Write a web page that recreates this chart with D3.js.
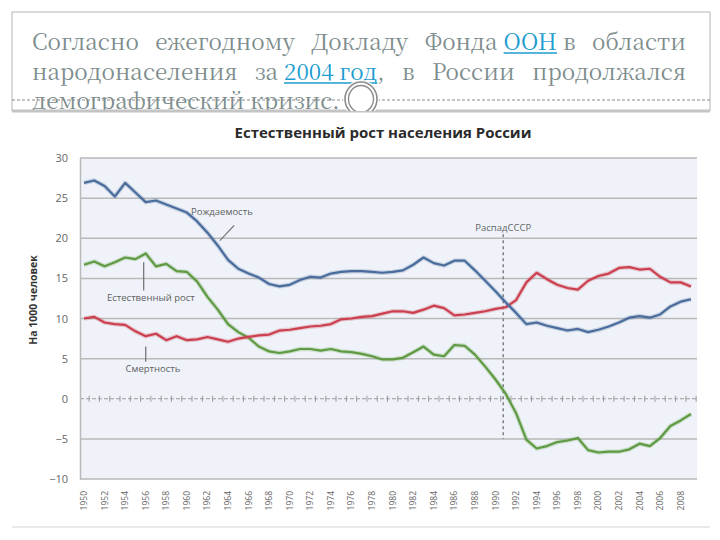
<!DOCTYPE html>
<html><head><meta charset="utf-8">
<script src="https://cdn.jsdelivr.net/npm/d3@7"></script>
<style>html,body{margin:0;padding:0;background:#fff;}svg{display:block;}
.hdr text{font-family:"Noto Serif CJK SC","Noto Serif CJK JP","Liberation Serif",serif;font-size:22.5px;}
</style>
</head><body>
<svg id="c" width="720" height="540"></svg>
<script>
// ---- data ----
const years = d3.range(1950, 2010);
const birthRate = [26.9,27.2,26.5,25.2,26.9,25.7,24.5,24.7,24.2,23.7,
  23.2,22.1,20.7,19.1,17.3,16.2,15.6,15.1,14.3,14.0,
  14.2,14.8,15.2,15.1,15.6,15.8,15.9,15.9,15.8,15.7,
  15.8,16.0,16.7,17.6,16.9,16.6,17.2,17.2,16.0,14.7,
  13.4,12.0,10.7,9.3,9.5,9.1,8.8,8.5,8.7,8.3,
  8.6,9.0,9.5,10.1,10.3,10.1,10.5,11.5,12.1,12.4];
const deathRate = [10.0,10.2,9.5,9.3,9.2,8.4,7.8,8.1,7.3,7.8,
  7.3,7.4,7.7,7.4,7.1,7.5,7.7,7.9,8.0,8.5,
  8.6,8.8,9.0,9.1,9.3,9.9,10.0,10.2,10.3,10.6,
  10.9,10.9,10.7,11.1,11.6,11.3,10.4,10.5,10.7,10.9,
  11.2,11.4,12.3,14.5,15.7,14.9,14.2,13.8,13.6,14.7,
  15.3,15.6,16.3,16.4,16.1,16.2,15.2,14.5,14.5,14.0];
const naturalGrowth = [16.7,17.1,16.5,17.0,17.6,17.4,18.1,16.5,16.8,15.9,
  15.8,14.6,12.7,11.1,9.3,8.3,7.6,6.5,5.9,5.7,
  5.9,6.2,6.2,6.0,6.2,5.9,5.8,5.6,5.3,4.9,
  4.9,5.1,5.8,6.5,5.5,5.3,6.7,6.6,5.5,4.0,
  2.4,0.6,-1.8,-5.1,-6.2,-5.9,-5.4,-5.2,-4.9,-6.4,
  -6.7,-6.6,-6.6,-6.3,-5.6,-5.9,-4.9,-3.4,-2.7,-1.9];
const yTicks = [30,25,20,15,10,5,0,-5,-10];
const xTickYears = d3.range(1950, 2010, 2);
const collapseYear = 1990.75;
const collapseRange = [20.5, -5];
const chartTitle = "Естественный рост населения России";
const yTitle = "На 1000 человек";
const labels = [
  {text:"Рождаемость", year:1963.4, value:23.2, lead:[[1964.6,21.6],[1963.2,19.7]]},
  {text:"Естественный рост", year:1956.5, value:12.5, lead:[[1955.8,17.0],[1955.8,13.5]]},
  {text:"Смертность", year:1956.7, value:3.6, lead:[[1956.0,6.5],[1956.0,4.6]]}
];
const headerLines = [
  [{t:"Согласно"},{t:"ежегодному"},{t:"Докладу"},{t:"Фонда"},{t:"ООН",link:1},{t:"в"},{t:"области"}],
  [{t:"народонаселения"},{t:"за"},{t:"2004 год",link:1},{t:",",attach:1},{t:"в"},{t:"России"},{t:"продолжался"}],
  [{t:"демографический"},{t:"кризис."}]
];

// ---- drawing ----
const svg = d3.select("#c");
const W = 720;

const hdr = svg.append("g").attr("class","hdr");
svg.append("defs").append("clipPath").attr("id","hclip")
  .append("rect").attr("x",0).attr("y",0).attr("width",W).attr("height",111);
const ht = hdr.append("g").attr("clip-path","url(#hclip)");
const txtCol = "#7d8d8d", linkCol = "#1c9ccf";
const left = 32, right = 686, baselines = [50, 80, 109];
headerLines.forEach((words, li) => {
  const nodes = words.map(w => ht.append("text")
    .attr("fill", w.link ? linkCol : txtCol).attr("y", baselines[li]).text(w.t));
  const widths = nodes.map(n => n.node().getComputedTextLength());
  const last = li === headerLines.length - 1;
  const gaps = [];
  for (let i = 1; i < words.length; i++) {
    if (words[i].attach) gaps.push({fixed:0});
    else if (words[i].link || words[i-1].link) gaps.push({fixed:6});
    else gaps.push({fixed:null});
  }
  const total = d3.sum(widths);
  const fixedSum = d3.sum(gaps.filter(g => g.fixed !== null), g => g.fixed);
  const nStretch = gaps.filter(g => g.fixed === null).length;
  const stretch = last ? 6 : (right - left - total - fixedSum) / Math.max(1, nStretch);
  let xx = left;
  nodes.forEach((n, i) => {
    if (i > 0) { const g = gaps[i-1]; xx += g.fixed === null ? stretch : g.fixed; }
    n.attr("x", xx);
    if (words[i].link) {
      ht.append("line").attr("x1", xx).attr("x2", xx + widths[i])
        .attr("y1", baselines[li] + 3).attr("y2", baselines[li] + 3)
        .attr("stroke", linkCol).attr("stroke-width", 1.5);
    }
    xx += widths[i];
  });
});
hdr.append("path").attr("d","M12,111 V12 H710 V111").attr("fill","none").attr("stroke","#b4b4b4").attr("stroke-width",1);
hdr.append("line").attr("x1",12).attr("x2",710).attr("y1",100).attr("y2",100)
  .attr("stroke","#8a8a8a").attr("stroke-width",1).attr("stroke-dasharray","3,2");
hdr.append("line").attr("x1",12).attr("x2",710).attr("y1",111).attr("y2",111)
  .attr("stroke","#c4c4c4").attr("stroke-width",3);
const circ = hdr.append("g").attr("clip-path","url(#hclip)");
circ.append("ellipse").attr("cx",361).attr("cy",99).attr("rx",18).attr("ry",19).attr("fill","#fff");
circ.append("ellipse").attr("cx",361).attr("cy",99).attr("rx",16).attr("ry",17).attr("fill","none").attr("stroke","#8c8c8c").attr("stroke-width",1.6);
circ.append("ellipse").attr("cx",361).attr("cy",99).attr("rx",12.5).attr("ry",13.5).attr("fill","none").attr("stroke","#8c8c8c").attr("stroke-width",1.4);

// chart
const px0 = 80, px1 = 697, py0 = 158, py1 = 479;
const x = d3.scaleLinear().domain([1950, 2009]).range([84, 691]);
const y = d3.scaleLinear().domain([-10, 30]).range([py1, py0]);
const step = x(1951) - x(1950);

svg.append("text").attr("x", 383).attr("y", 138).attr("text-anchor","middle")
  .attr("font-family","Open Sans, Liberation Sans, sans-serif").attr("font-weight","bold")
  .attr("font-size",15).attr("fill","#2b2b2b").text(chartTitle);

svg.append("rect").attr("x",px0).attr("y",py0).attr("width",px1-px0).attr("height",py1-py0).attr("fill","#eff3f9");

const g = svg.append("g");
g.selectAll("line.grid").data(yTicks.filter(v => v !== 0)).join("line")
  .attr("x1",px0).attr("x2",px1).attr("y1",d=>y(d)).attr("y2",d=>y(d))
  .attr("stroke","#b9b9b9").attr("stroke-width",1.5);
const yAxis = d3.axisLeft(y).tickValues(yTicks).tickSize(0).tickPadding(12);
const ya = svg.append("g").attr("transform",`translate(${px0},0)`).call(yAxis);
ya.select(".domain").attr("stroke","#b9b9b9").attr("stroke-width",1.5);
ya.selectAll("text").attr("font-family","Open Sans, Liberation Sans, sans-serif").attr("font-size",11).attr("fill","#666");
g.append("line").attr("x1",px0).attr("x2",px1).attr("y1",y(0)).attr("y2",y(0))
  .attr("stroke","#9a9a9a").attr("stroke-width",1.2).attr("stroke-dasharray","4,2");
g.selectAll("line.tk").data(years).join("line")
  .attr("x1",d=>x(d)+step/2).attr("x2",d=>x(d)+step/2).attr("y1",y(0)-3).attr("y2",y(0)+3)
  .attr("stroke","#9a9a9a").attr("stroke-width",1);

svg.selectAll("text.xl").data(xTickYears).join("text")
  .attr("transform", d => `translate(${x(d)+3},491) rotate(-90)`)
  .attr("text-anchor","end").attr("font-family","Open Sans, Liberation Sans, sans-serif")
  .attr("font-size",8.5).attr("fill","#666").text(d => d);

svg.append("text").attr("transform","translate(37,300) rotate(-90)").attr("text-anchor","middle")
  .attr("font-family","Open Sans, Liberation Sans, sans-serif").attr("font-weight","bold")
  .attr("font-size",10.5).attr("fill","#333").text(yTitle);

svg.append("line").attr("x1",x(collapseYear)).attr("x2",x(collapseYear))
  .attr("y1",y(collapseRange[0])).attr("y2",y(collapseRange[1]))
  .attr("stroke","#808080").attr("stroke-width",1.5).attr("stroke-dasharray","3,3");
svg.append("text").attr("x",x(collapseYear)).attr("y",y(20.5)-3).attr("text-anchor","middle")
  .attr("font-family","Open Sans, Liberation Sans, sans-serif").attr("font-size",9.5).attr("fill","#666").text("РаспадСССР");

const series = [
  {vals: naturalGrowth, color:"#5f9a42"},
  {vals: deathRate, color:"#cc3f4f"},
  {vals: birthRate, color:"#4a6c9c"}
];
const line = d3.line().x((d,i)=>x(years[i])).y(d=>y(d));
series.forEach(s => {
  svg.append("path").datum(s.vals).attr("d",line).attr("fill","none")
    .attr("stroke",s.color).attr("stroke-opacity",0.25).attr("stroke-width",4.5).attr("stroke-linejoin","round");
  svg.append("path").datum(s.vals).attr("d",line).attr("fill","none")
    .attr("stroke",s.color).attr("stroke-width",2.2).attr("stroke-linejoin","round");
});

labels.forEach(l => {
  svg.append("text").attr("x",x(l.year)).attr("y",y(l.value)).attr("text-anchor","middle")
    .attr("dominant-baseline","middle")
    .attr("font-family","Open Sans, Liberation Sans, sans-serif").attr("font-size",9.5).attr("fill","#606060").text(l.text);
  svg.append("line").attr("x1",x(l.lead[0][0])).attr("y1",y(l.lead[0][1]))
    .attr("x2",x(l.lead[1][0])).attr("y2",y(l.lead[1][1]))
    .attr("stroke","#777").attr("stroke-width",1.3);
});

svg.append("line").attr("x1",12).attr("x2",710).attr("y1",527).attr("y2",527).attr("stroke","#d4d4d4").attr("stroke-width",1);
</script>
</body></html>
